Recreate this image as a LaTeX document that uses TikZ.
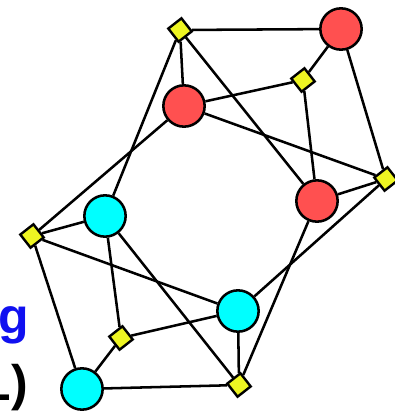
\documentclass[tikz,border=0pt]{standalone}
\usepackage{fontspec}
\setmainfont{Liberation Sans}
\definecolor{nodeRed}{HTML}{FF5050}
\definecolor{nodeCyan}{HTML}{00FFFF}
\definecolor{nodeYellow}{HTML}{EEF522}
\definecolor{textBlue}{HTML}{1010F0}
\usetikzlibrary{backgrounds}

\tikzset{
  redv/.style={circle, fill=nodeRed, draw=black, line width=1.9pt, minimum size=31pt, inner sep=0pt},
  cyanv/.style={circle, fill=nodeCyan, draw=black, line width=1.9pt, minimum size=31pt, inner sep=0pt},
  sqv/.style={rectangle, fill=nodeYellow, draw=black, line width=1.8pt, minimum size=12.5pt, inner sep=0pt, rotate=38},
  link/.style={draw=black, line width=1.9pt}
}

\begin{document}
\begin{tikzpicture}[x=0.75pt, y=-0.75pt]
  \useasboundingbox (0,0) rectangle (395,413);

  % red vertices
  \node[redv] (rA) at (341,29) {};
  \node[redv] (rB) at (184,106) {};
  \node[redv] (rC) at (317,201) {};
  % cyan vertices
  \node[cyanv] (cA) at (105,216) {};
  \node[cyanv] (cB) at (238,311) {};
  \node[cyanv] (cC) at (82,389) {};
  % yellow squares
  \node[sqv] (sA) at (180,30) {};
  \node[sqv] (sB) at (303,80) {};
  \node[sqv] (sC) at (386,179) {};
  \node[sqv] (sD) at (32,236) {};
  \node[sqv] (sE) at (121,338) {};
  \node[sqv] (sF) at (239,385) {};

  % clipped slide text
  \node[anchor=base east, inner sep=0pt, font=\fontsize{37.5pt}{40pt}\selectfont\bfseries, text=textBlue] (tg) at (29,333) {g};
  \node[anchor=base east, inner sep=0pt, font=\fontsize{37.5pt}{40pt}\selectfont\bfseries] (tl) at (28,400) {L)};

  \begin{scope}[on background layer]
    \draw[link] (sA) -- (rA);
    \draw[link] (sA) -- (rB);
    \draw[link] (sA) -- (cA);
    \draw[link] (sA) -- (rC);
    \draw[link] (sB) -- (rA);
    \draw[link] (sB) -- (rB);
    \draw[link] (sB) -- (rC);
    \draw[link] (sC) -- (rA);
    \draw[link] (sC) -- (rB);
    \draw[link] (sC) -- (rC);
    \draw[link] (sC) -- (cB);
    \draw[link] (sD) -- (rB);
    \draw[link] (sD) -- (cA);
    \draw[link] (sD) -- (cB);
    \draw[link] (sD) -- (cC);
    \draw[link] (sE) -- (cA);
    \draw[link] (sE) -- (cB);
    \draw[link] (sE) -- (cC);
    \draw[link] (sF) -- (cA);
    \draw[link] (sF) -- (cB);
    \draw[link] (sF) -- (cC);
    \draw[link] (sF) -- (rC);
  \end{scope}
\end{tikzpicture}
\end{document}
